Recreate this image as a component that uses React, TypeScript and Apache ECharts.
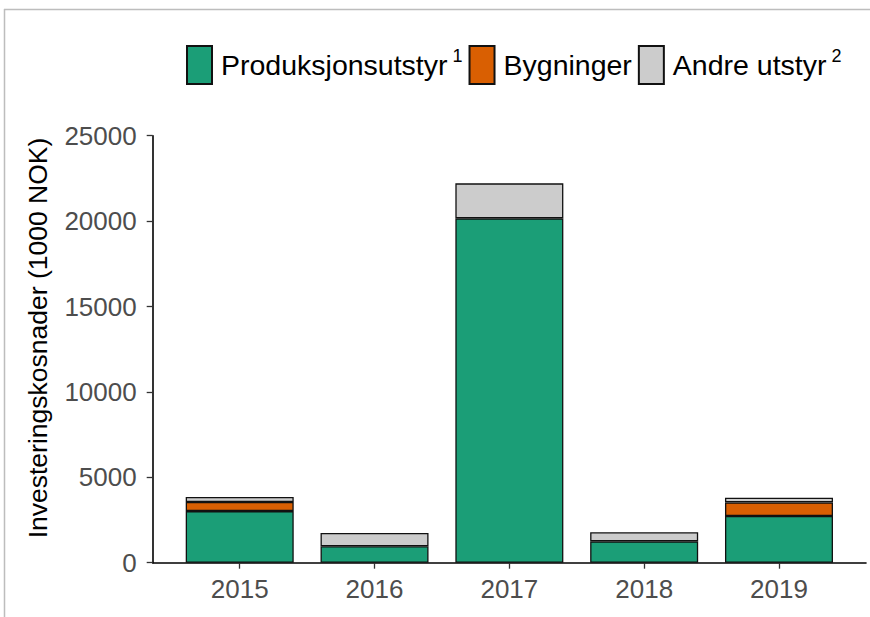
import React, { useEffect, useRef } from "react";
import * as echarts from "echarts";

const years = ["2015", "2016", "2017", "2018", "2019"];
const produksjon = [3020, 960, 20160, 1250, 2730];
const bygninger: (number | null)[] = [530, null, null, null, 800];
const andre = [300, 780, 2050, 530, 270];

const FONT = "Liberation Sans";
const Y_TITLE = "Investeringskosnader (1000 NOK)";

export default function App() {
  const ref = useRef<HTMLDivElement>(null);
  useEffect(() => {
    if (!ref.current) return;
    const chart = echarts.init(ref.current, null, { renderer: "svg" });
    const mk = (name: string, vals: (number | null)[], color: string) => ({
      name,
      type: "bar",
      stack: "total",
      barWidth: 108,
      xAxisIndex: 0,
      yAxisIndex: 0,
      data: vals.map((v) => (v == null ? "-" : v)),
      itemStyle: { color, borderColor: "#111", borderWidth: 1.3 },
      emphasis: { disabled: true },
    });
    const sup: Record<string, string> = { Produksjonsutstyr: "1", "Andre utstyr": "2" };
    const top = 135.7;
    const bottom = 54.3;
    chart.setOption({
      animation: false,
      backgroundColor: "#fff",
      textStyle: { fontFamily: FONT },
      grid: [
        { left: 172.3, right: 23.6, top, bottom },
        { left: 152.7, right: 4, top, bottom },
      ],
      legend: {
        left: 186,
        top: 45,
        padding: 0,
        itemWidth: 25,
        itemHeight: 38,
        itemGap: 6,
        icon: "rect",
        data: ["Produksjonsutstyr", "Bygninger", "Andre utstyr"],
        formatter: (name: string) =>
          sup[name] ? `{m|${name}}{s| ${sup[name]}}` : `{m|${name}}`,
        textStyle: {
          fontFamily: FONT,
          color: "#000",
          rich: {
            m: { fontSize: 28.5, fontFamily: FONT, color: "#000", padding: [0, 0, 0, 4], lineHeight: 36 },
            s: { fontSize: 18, fontFamily: FONT, color: "#000", verticalAlign: "top", lineHeight: 36, padding: [0, 0, 16, 0] },
          },
        },
      },
      xAxis: [
        {
          type: "category",
          gridIndex: 0,
          data: years,
          axisLine: { show: true, lineStyle: { color: "rgba(0,0,0,0)" } },
          axisTick: { show: true, alignWithLabel: true, length: 6, lineStyle: { color: "#333", width: 1.3 } },
          axisLabel: { fontSize: 26, fontFamily: FONT, color: "#4d4d4d", margin: 13 },
          splitLine: { show: false },
        },
        {
          type: "value",
          gridIndex: 1,
          min: 0,
          max: 1,
          axisLine: { show: true, lineStyle: { color: "#000", width: 1.6 } },
          axisTick: { show: false },
          axisLabel: { show: false },
          splitLine: { show: false },
        },
      ],
      yAxis: [
        {
          type: "value",
          gridIndex: 0,
          min: 0,
          max: 25000,
          interval: 5000,
          show: false,
          splitLine: { show: false },
        },
        {
          type: "value",
          gridIndex: 1,
          min: 0,
          max: 25000,
          interval: 5000,
          splitLine: { show: false },
          axisLine: { show: true, lineStyle: { color: "#000", width: 1.6 } },
          axisTick: { show: true, length: 6, lineStyle: { color: "#333", width: 1.3 } },
          axisLabel: {
            fontSize: 26,
            fontFamily: FONT,
            color: "#4d4d4d",
            margin: 16,
            formatter: (v: number) => String(v),
          },
        },
      ],
      graphic: [
        { type: "line", shape: { x1: 4, y1: 9.5, x2: 870, y2: 9.5 }, style: { stroke: "#bdbdbd", lineWidth: 1.5 }, silent: true },
        { type: "line", shape: { x1: 4.5, y1: 9, x2: 4.5, y2: 617 }, style: { stroke: "#bdbdbd", lineWidth: 1.5 }, silent: true },
        {
          type: "text",
          x: 38,
          y: 338,
          rotation: Math.PI / 2,
          silent: true,
          style: {
            text: Y_TITLE,
            fontSize: 26.5,
            fontFamily: FONT,
            fill: "#000",
            align: "center",
            verticalAlign: "middle",
          },
        },
      ],
      series: [
        mk("Produksjonsutstyr", produksjon, "#1b9e77"),
        mk("Bygninger", bygninger, "#d95f02"),
        mk("Andre utstyr", andre, "#cccccc"),
      ],
    });
    return () => chart.dispose();
  }, []);
  return (
    <div
      ref={ref}
      style={{ position: "fixed", left: 0, top: 0, width: 870, height: 617, background: "#fff" }}
    />
  );
}
